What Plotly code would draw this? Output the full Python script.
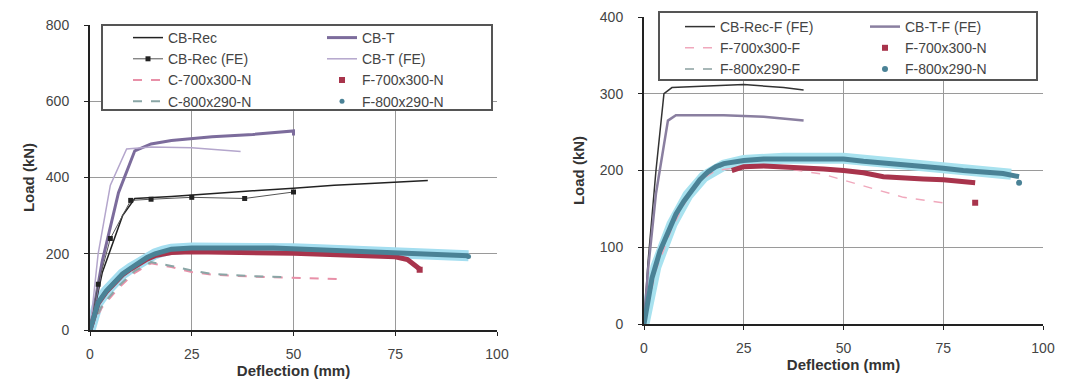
import plotly.graph_objects as go

# ---------------- Left panel data ----------------
cbrec_x = [0, 3, 8, 11, 20, 30, 40, 50, 60, 70, 83]
cbrec_y = [0, 150, 300, 345, 350, 358, 365, 372, 380, 385, 392]
cbt_x = [0, 3, 7, 11, 15, 20, 30, 40, 50, 50]
cbt_y = [0, 180, 360, 470, 488, 497, 507, 513, 522, 510]
cbrecfe_x = [0, 2, 5, 10, 15, 25, 38, 50]
cbrecfe_y = [0, 120, 240, 340, 343, 348, 345, 362]
cbtfe_x = [0, 2, 5, 9, 15, 25, 37]
cbtfe_y = [0, 200, 380, 475, 480, 478, 468]
c700_x = [0, 3, 7, 11, 15, 20, 25, 30, 40, 50, 62]
c700_y = [0, 60, 110, 150, 175, 165, 152, 145, 140, 137, 133]
c800_x = [0, 3, 7, 11, 15, 20, 25, 30, 40, 47]
c800_y = [0, 65, 115, 155, 178, 168, 156, 147, 141, 139]
f700l_x = [0, 2, 4, 6, 8, 10, 12, 14, 16, 18, 20, 25, 30, 35, 40, 45, 50, 55, 60, 65, 70, 75, 78, 80, 81]
f700l_y = [0, 70, 100, 125, 145, 160, 174, 186, 195, 200, 203, 205, 205, 204, 203, 202, 201, 199, 198,
           197, 195, 192, 185, 170, 160]
f700l_end_x = [81]
f700l_end_y = [158]
f800l_x = [0, 2, 4, 6, 8, 10, 12, 14, 16, 18, 20, 25, 30, 35, 40, 45, 50, 55, 60, 65, 70, 75, 80, 85, 90, 93]
f800l_y = [0, 72, 102, 127, 147, 162, 176, 190, 200, 207, 212, 215, 216, 216, 215, 215, 213, 211, 209,
           207, 205, 203, 201, 199, 197, 195]
f800l_end_x = [93]
f800l_end_y = [193]

# ---------------- Right panel data ----------------
rrec_x = [0, 1, 3, 5, 7, 15, 25, 35, 40]
rrec_y = [0, 80, 200, 300, 308, 310, 312, 308, 305]
rt_x = [0, 1, 3, 6, 8, 20, 30, 40]
rt_y = [0, 70, 170, 265, 272, 272, 270, 265]
f700f_x = [0, 3, 7, 11, 15, 18, 25, 35, 45, 55, 65, 75]
f700f_y = [0, 70, 125, 165, 190, 200, 205, 203, 195, 180, 165, 158]
f800f_x = [0, 3, 7, 11, 15, 20, 25, 35, 50, 60, 70, 80, 92]
f800f_y = [0, 75, 130, 168, 192, 207, 213, 216, 216, 211, 206, 199, 195]
f700r_x = [22, 25, 30, 35, 40, 45, 50, 55, 60, 65, 70, 75, 80, 83]
f700r_y = [200, 205, 206, 205, 204, 202, 200, 197, 192, 190, 189, 188, 186, 184]
f700r_end_x = [83]
f700r_end_y = [158]
f800r_x = [0, 2, 4, 6, 8, 10, 12, 14, 16, 18, 20, 25, 30, 35, 40, 45, 50, 55, 60, 65, 70, 75, 80, 85,
           90, 94]
f800r_y = [0, 60, 95, 120, 143, 160, 175, 188, 198, 205, 209, 213, 215, 215, 215, 215, 215, 212, 210,
           208, 206, 203, 200, 198, 196, 192]
f800r_end_x = [94]
f800r_end_y = [184]

x_ticks = [0, 25, 50, 75, 100]
yl_ticks = [0, 200, 400, 600, 800]
yr_ticks = [0, 100, 200, 300, 400]

# page body has an 8px default margin: figure is sized to fit the window exactly
OFF = 8
W, H = 1074 - OFF, 381 - OFF
fig = go.Figure()


def L(x, y, name, color, width, dash="solid", xa="x", ya="y", leg="legend", mode="lines",
      msym="square", msize=6, mcolor=None, show=True):
    fig.add_trace(go.Scatter(
        x=x, y=y, name=name, mode=mode, xaxis=xa, yaxis=ya, legend=leg, showlegend=show,
        line=dict(color=color, width=width, dash=dash),
        marker=dict(symbol=msym, size=msize, color=mcolor or color),
    ))


RED, TEAL = "#a8344c", "#4a8296"

# Left panel (legend = column 1, legend3 = column 2)
L(f800l_x, f800l_y, "F-800x290-N", "#a4def0", 11, show=False)
L(cbrec_x, cbrec_y, "CB-Rec", "#222222", 1.5, leg="legend")
L(cbt_x, cbt_y, "CB-T", "#7c6c9c", 3, leg="legend3")
L(cbrecfe_x, cbrecfe_y, "CB-Rec (FE)", "#555555", 1, mode="lines+markers", msize=5,
  mcolor="#222222", leg="legend")
L(cbtfe_x, cbtfe_y, "CB-T (FE)", "#b4a6cc", 1.5, leg="legend3")
L(c700_x, c700_y, "C-700x300-N", "#e890a8", 2, dash="dash", leg="legend")
L(c800_x, c800_y, "C-800x290-N", "#8aa6a6", 2, dash="dash", leg="legend")
L(f700l_x, f700l_y, "F-700x300-N", RED, 5, show=False)
L(f800l_x, f800l_y, "F-800x290-N", TEAL, 5, show=False)
L(f700l_end_x, f700l_end_y, "F-700x300-N", RED, 1, mode="markers", msize=6, leg="legend3")
L(f800l_end_x, f800l_end_y, "F-800x290-N", TEAL, 1, mode="markers", msize=5, msym="circle",
  leg="legend3")

# Right panel (legend2 = column 1, legend4 = column 2)
L(f800f_x, f800f_y, "F-800x290-F", "#a8e2ef", 11, xa="x2", ya="y2", show=False)
L(rrec_x, rrec_y, "CB-Rec-F (FE)", "#333333", 1.5, xa="x2", ya="y2", leg="legend2")
L(rt_x, rt_y, "CB-T-F (FE)", "#8a7fa0", 2.5, xa="x2", ya="y2", leg="legend4")
L(f700f_x, f700f_y, "F-700x300-F", "#f0a8bc", 1.5, dash="dash", xa="x2", ya="y2", leg="legend2")
L(f800f_x, f800f_y, "F-800x290-F", "#8aa0a0", 1.5, dash="dash", xa="x2", ya="y2", leg="legend2")
L(f800r_x, f800r_y, "F-800x290-N", TEAL, 5, xa="x2", ya="y2", show=False)
L(f700r_x, f700r_y, "F-700x300-N", RED, 5, xa="x2", ya="y2", show=False)
L(f800r_end_x, f800r_end_y, "F-800x290-N", TEAL, 1, mode="markers", msize=6, msym="circle",
  xa="x2", ya="y2", leg="legend4")
L(f700r_end_x, f700r_end_y, "F-700x300-N", RED, 1, mode="markers", msize=6, xa="x2", ya="y2",
  leg="legend4")

# legend row order
order = {"legend": ["CB-Rec", "CB-Rec (FE)", "C-700x300-N", "C-800x290-N"],
         "legend3": ["CB-T", "CB-T (FE)", "F-700x300-N", "F-800x290-N"],
         "legend2": ["CB-Rec-F (FE)", "F-700x300-F", "F-800x290-F"],
         "legend4": ["CB-T-F (FE)", "F-700x300-N", "F-800x290-N"]}
for t in fig.data:
    if t.showlegend is not False and t.name in order[t.legend]:
        t.legendrank = order[t.legend].index(t.name) + 1

axis_common = dict(showline=True, linecolor="#222222", linewidth=2, ticks="outside", ticklen=4,
                   tickcolor="#222222", showgrid=True, gridcolor="#9a9a9a", gridwidth=1,
                   zeroline=False, tickfont=dict(size=14, color="#444444"),
                   title_font=dict(size=15, color="#333333"))


def px_x(p):
    return (p - OFF) / W


def px_y(p):
    return 1 - (p - OFF) / H


def leg(xp, yp):
    return dict(x=px_x(xp), y=px_y(yp), xanchor="left", yanchor="top", orientation="v",
                bgcolor="rgba(0,0,0,0)", borderwidth=0, font=dict(size=14, color="#444444"),
                traceorder="normal", tracegroupgap=0)


fig.update_layout(
    width=W, height=H,
    margin=dict(l=0, r=0, t=0, b=0, autoexpand=False),
    paper_bgcolor="white", plot_bgcolor="white",
    font=dict(family="Liberation Sans, Arial, sans-serif", color="#333333"),
    xaxis=dict(domain=[px_x(90), px_x(497)], range=[0, 100], tickvals=x_ticks, ticklabelstandoff=6,
               title=dict(text="<b>Deflection (mm)</b>", standoff=2), anchor="y", **axis_common),
    yaxis=dict(domain=[px_y(330), px_y(25)], range=[0, 800], tickvals=yl_ticks, ticklabelstandoff=12,
               title=dict(text="<b>Load (kN)</b>", standoff=8), anchor="x", **axis_common),
    xaxis2=dict(domain=[px_x(644), px_x(1043)], range=[0, 100], tickvals=x_ticks, ticklabelstandoff=6,
                title=dict(text="<b>Deflection (mm)</b>", standoff=2), anchor="y2", **axis_common),
    yaxis2=dict(domain=[px_y(324), px_y(17)], range=[0, 400], tickvals=yr_ticks, ticklabelstandoff=12,
                title=dict(text="<b>Load (kN)</b>", standoff=12), anchor="x2", **axis_common),
    legend=leg(128, 22),
    legend3=leg(322, 22),
    legend2=leg(680, 11),
    legend4=leg(865, 11),
    shapes=[
        dict(type="rect", xref="paper", yref="paper", x0=px_x(102), x1=px_x(492),
             y0=px_y(110), y1=px_y(25), fillcolor="white", line=dict(color="#555555", width=2),
             layer="above"),
        dict(type="rect", xref="paper", yref="paper", x0=px_x(659), x1=px_x(1037),
             y0=px_y(80), y1=px_y(12), fillcolor="white", line=dict(color="#555555", width=2),
             layer="above"),
    ],
)

fig.write_html("out.html")
